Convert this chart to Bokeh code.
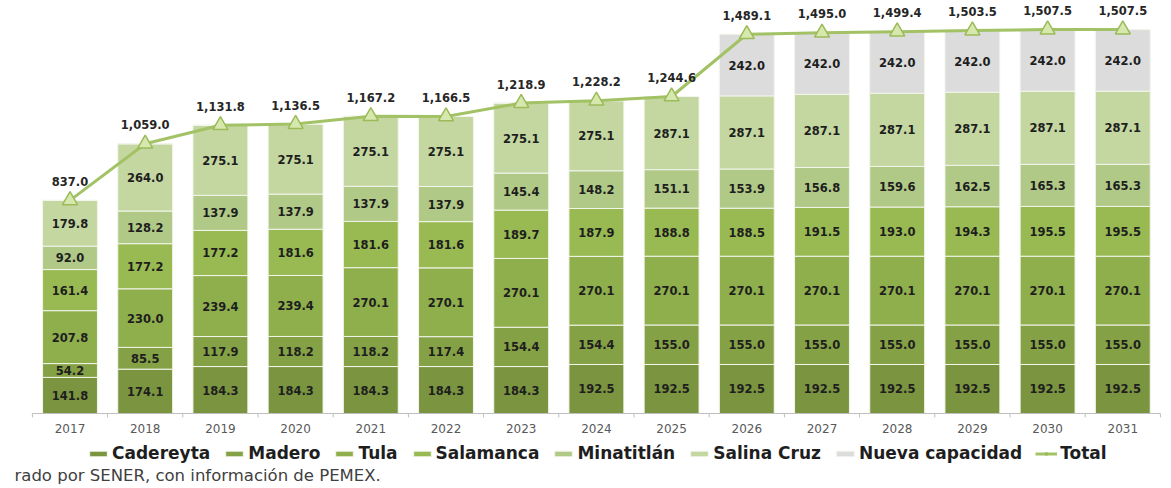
from bokeh.plotting import figure
from bokeh.models import ColumnDataSource, Legend, LegendItem, Range1d, Label
from bokeh.core.properties import value
from bokeh.embed import file_html
from bokeh.resources import INLINE

years = [2017, 2018, 2019, 2020, 2021, 2022, 2023, 2024, 2025, 2026, 2027, 2028, 2029, 2030, 2031]
year_labels = [str(y) for y in years]
cadereyta = [141.8, 174.1, 184.3, 184.3, 184.3, 184.3, 184.3, 192.5, 192.5, 192.5, 192.5, 192.5, 192.5, 192.5, 192.5]
madero = [54.2, 85.5, 117.9, 118.2, 118.2, 117.4, 154.4, 154.4, 155.0, 155.0, 155.0, 155.0, 155.0, 155.0, 155.0]
tula = [207.8, 230.0, 239.4, 239.4, 270.1, 270.1, 270.1, 270.1, 270.1, 270.1, 270.1, 270.1, 270.1, 270.1, 270.1]
salamanca = [161.4, 177.2, 177.2, 181.6, 181.6, 181.6, 189.7, 187.9, 188.8, 188.5, 191.5, 193.0, 194.3, 195.5, 195.5]
minatitlan = [92.0, 128.2, 137.9, 137.9, 137.9, 137.9, 145.4, 148.2, 151.1, 153.9, 156.8, 159.6, 162.5, 165.3, 165.3]
salina_cruz = [179.8, 264.0, 275.1, 275.1, 275.1, 275.1, 275.1, 275.1, 287.1, 287.1, 287.1, 287.1, 287.1, 287.1, 287.1]
nueva = [0, 0, 0, 0, 0, 0, 0, 0, 0, 242.0, 242.0, 242.0, 242.0, 242.0, 242.0]
total = [837.0, 1059.0, 1131.8, 1136.5, 1167.2, 1166.5, 1218.9, 1228.2, 1244.6, 1489.1, 1495.0, 1499.4, 1503.5, 1507.5, 1507.5]

series_names = ["Cadereyta", "Madero", "Tula", "Salamanca", "Minatitlán", "Salina Cruz", "Nueva capacidad"]
series_vals = [cadereyta, madero, tula, salamanca, minatitlan, salina_cruz, nueva]
colors = ["#7a9440", "#85a145", "#8fae4c", "#99ba52", "#b1c987", "#c4d7a1", "#dcdcdc"]
caption = "rado por SENER, con información de PEMEX."

W, H = 1171, 488
px_x = 75.2            # pixels per year
px_y = 408 / 1602      # pixels per unit
base_px = 413          # screen row of the zero line
x0 = years[0] - 69.5 / px_x
y1 = base_px / px_y
y0 = -(H - base_px) / px_y

p = figure(width=W, height=H, output_backend="svg", toolbar_location=None,
           x_range=Range1d(x0, x0 + W / px_x), y_range=Range1d(y0, y1),
           min_border=0, outline_line_color=None,
           background_fill_color="white", border_fill_color="white")
p.xaxis.visible = False
p.yaxis.visible = False
p.xgrid.visible = False
p.ygrid.visible = False

bar_w = 0.73
legend_items = []
bottom = [0.0] * len(years)
label_font = value("DejaVu Sans")
for name, vals, col in zip(series_names, series_vals, colors):
    top = [b + v for b, v in zip(bottom, vals)]
    mid = [(b + t) / 2 for b, t in zip(bottom, top)]
    src = ColumnDataSource(dict(x=years, bottom=bottom, top=top, mid=mid,
                                lab=[f"{v:.1f}" if v > 0 else "" for v in vals]))
    r = p.vbar(x="x", bottom="bottom", top="top", width=bar_w, source=src,
               fill_color=col, line_color="#f2f5ec", line_width=1)
    p.text(x="x", y="mid", text="lab", source=src, text_align="center", text_baseline="middle",
           text_font=label_font, text_font_size="11.5px", text_font_style="bold", text_color="#1e1e1e")
    legend_items.append(LegendItem(label=name, renderers=[r]))
    bottom = top

# category axis (line, boundary ticks, year labels)
edges = [y - 0.5 for y in years] + [years[-1] + 0.5]
p.segment(x0=[edges[0]], y0=[0], x1=[edges[-1]], y1=[0], line_color="#bfbfbf", line_width=1)
p.segment(x0=edges, y0=[0] * len(edges), x1=edges, y1=[-4 / px_y] * len(edges),
          line_color="#bfbfbf", line_width=1)
p.text(x=years, y=[0] * len(years), text=year_labels, text_align="center", text_baseline="middle",
       y_offset=15, text_font=label_font, text_font_size="12px", text_color="#595959")

tsrc = ColumnDataSource(dict(x=years, y=total, lab=[f"{v:,.1f}" for v in total]))
lr = p.line(x="x", y="y", source=tsrc, line_color="#a2c265", line_width=3)
mr = p.scatter(x="x", y="y", source=tsrc, marker="triangle", size=15,
               fill_color="#d6e8ad", line_color="#9bbb59", line_width=1.5)
p.text(x="x", y="y", text="lab", source=tsrc, text_align="center", text_baseline="middle",
       y_offset=-19, text_font=label_font, text_font_size="11.5px", text_font_style="bold",
       text_color="#262626")
legend_items.append(LegendItem(label="Total", renderers=[lr, mr]))

legend = Legend(items=legend_items, orientation="horizontal", location=(87, 25),
                glyph_width=22, glyph_height=7, label_standoff=3, spacing=13, label_height=18,
                label_text_font="DejaVu Sans", label_text_font_size="17px",
                label_text_font_style="bold", label_text_color="#1e1e1e",
                border_line_color=None, padding=0, margin=0, background_fill_alpha=0)
p.add_layout(legend, "center")

p.add_layout(Label(x=x0, y=-(475 - base_px) / px_y, x_offset=14, text=caption,
                   text_baseline="middle", text_font="DejaVu Sans", text_font_size="16.5px",
                   text_color="#404040"))

open("out.html", "w").write(file_html(p, INLINE))
